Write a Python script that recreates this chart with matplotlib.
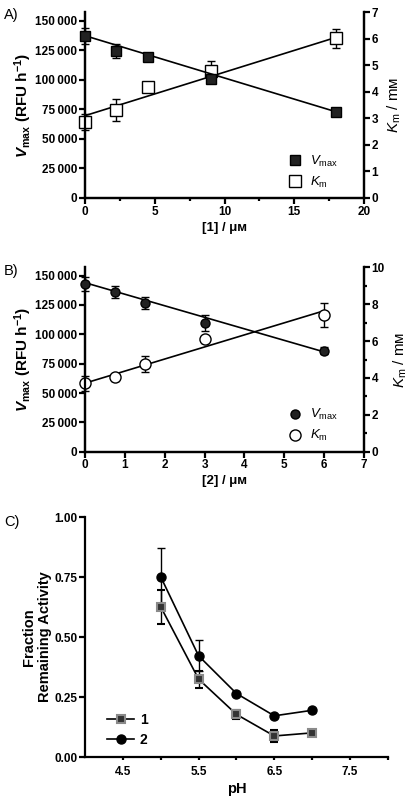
import numpy as np
import matplotlib
matplotlib.use("Agg")
import matplotlib.pyplot as plt
from matplotlib.ticker import FuncFormatter, MultipleLocator

plt.rcParams['font.family'] = ['Liberation Sans', 'DejaVu Sans']
plt.rcParams['mathtext.fontset'] = 'custom'
plt.rcParams['mathtext.rm'] = 'Liberation Sans'
plt.rcParams['mathtext.it'] = 'Liberation Sans:italic'
plt.rcParams['mathtext.bf'] = 'Liberation Sans:bold:italic'
plt.rcParams['mathtext.sf'] = 'Liberation Sans:bold'

# Panel A: compound 1
conc_a = [0, 2.25, 4.5, 9, 18]
vmax_a = [137300, 124800, 119700, 100600, 73100]
vmax_err_a = [7000, 6000, 2000, 3000, 1500]
km_a = [2.87, 3.31, 4.17, 4.79, 6.01]
km_err_a = [0.3, 0.4, 0.15, 0.37, 0.35]
fit_x_a = [0, 18]
fit_vmax_a = [137500, 73000]
fit_km_a = [3.1, 6.05]

# Panel B: compound 2
conc_b = [0, 0.75, 1.5, 3, 6]
vmax_b = [143200, 136100, 126700, 109600, 86000]
vmax_err_b = [6000, 5000, 5000, 7000, 3000]
km_b = [3.72, 4.04, 4.77, 6.1, 7.43]
km_err_b = [0.4, 0.2, 0.43, 0.2, 0.64]
fit_x_b = [0, 6]
fit_vmax_b = [144000, 85000]
fit_km_b = [3.72, 7.65]

# Panel C: pH stability
ph = [5.0, 5.5, 6.0, 6.5, 7.0]
frac_1 = [0.626, 0.325, 0.178, 0.088, 0.101]
frac_1_err = [0.07, 0.035, 0.02, 0.025, 0.012]
frac_2 = [0.751, 0.422, 0.265, 0.172, 0.195]
frac_2_err = [0.12, 0.065, 0.005, 0.005, 0.005]

LW = 1.6
TICKFONT = 8.5
SMALL_M = '\u1d0d'


def thousands(v, pos):
    return f"{int(v):,}".replace(",", "\u2009") if v >= 1000 else f"{int(v)}"


def style_axis(ax, right=True):
    ax.spines['top'].set_visible(False)
    if not right:
        ax.spines['right'].set_visible(False)
    for s in ax.spines.values():
        s.set_linewidth(LW)
    ax.tick_params(direction='out', width=LW, length=4, labelsize=TICKFONT, pad=1.5)
    ax.tick_params(which='minor', direction='out', width=LW, length=2.5)
    for lab in ax.get_xticklabels() + ax.get_yticklabels():
        lab.set_fontweight('bold')


fig = plt.figure(figsize=(4.17, 8.08), dpi=100)

ylab_left = r'$\mathbf{V}_{\mathsf{max}}$ (RFU h$^{\mathsf{-1}}$)'
ylab_right = r'$\mathit{K}_{\rm m}$ / m' + SMALL_M


def kinetics_panel(rect, conc, vmax, vmax_err, km, km_err, fit_x, fit_vmax, fit_km,
                   marker, xlim, xmajor, xminor, ylim_l, ylim_r, rmajor, rminor, xlabel):
    ax = fig.add_axes(rect)
    ax2 = ax.twinx()
    ax.set_zorder(ax2.get_zorder() + 1)
    ax.patch.set_visible(False)
    ax.plot(fit_x, fit_vmax, color='black', lw=1.2, zorder=2)
    ax.errorbar(conc, vmax, yerr=vmax_err, fmt=marker, ms=6.5, color='#222222',
                mec='black', ecolor='black', elinewidth=1, capsize=3, capthick=1, zorder=3,
                clip_on=False)
    ax2.plot(fit_x, fit_km, color='black', lw=1.2, zorder=2)
    ax2.errorbar(conc, km, yerr=km_err, fmt=marker, ms=8, mfc='white', mec='black', mew=1,
                 ecolor='black', elinewidth=1, capsize=3, capthick=1, zorder=3, clip_on=False)
    ax.set_xlim(*xlim)
    ax.set_ylim(*ylim_l)
    ax2.set_ylim(*ylim_r)
    ax.xaxis.set_major_locator(MultipleLocator(xmajor))
    ax.xaxis.set_minor_locator(MultipleLocator(xminor))
    ax.yaxis.set_major_locator(MultipleLocator(25000))
    ax.yaxis.set_major_formatter(FuncFormatter(thousands))
    ax2.yaxis.set_major_locator(MultipleLocator(rmajor))
    ax2.yaxis.set_minor_locator(MultipleLocator(rminor))
    style_axis(ax)
    style_axis(ax2)
    ax.set_xlabel(xlabel, fontsize=9.5, fontweight='bold', labelpad=3)
    ax.set_ylabel(ylab_left, fontsize=11, fontweight='bold', labelpad=1)
    ax2.set_ylabel(ylab_right, fontsize=11, labelpad=5)
    # legend
    h1 = ax.plot([], [], marker, color='#222222', mec='black', ms=6.5)[0]
    h2 = ax.plot([], [], marker, mfc='white', mec='black', ms=8)[0]
    ax.legend([h1, h2], [r'$\mathit{V}_{\rm max}$', r'$\mathit{K}_{\rm m}$'],
              loc='lower right', bbox_to_anchor=(0.95, -0.02), frameon=False, fontsize=9.5,
              handletextpad=0.5, labelspacing=0.45, handlelength=1.2)
    return ax


kinetics_panel([0.204, 0.755, 0.669, 0.230], conc_a, vmax_a, vmax_err_a, km_a, km_err_a,
               fit_x_a, fit_vmax_a, fit_km_a, 's', (0, 20), 5, 2.5,
               (0, 157500), (0, 7), 1, 1, '[1] / \u03bc' + SMALL_M)
kinetics_panel([0.204, 0.441, 0.669, 0.228], conc_b, vmax_b, vmax_err_b, km_b, km_err_b,
               fit_x_b, fit_vmax_b, fit_km_b, 'o', (0, 7), 1, 1,
               (0, 157000), (0, 10), 2, 1, '[2] / \u03bc' + SMALL_M)

# Panel C
axc = fig.add_axes([0.204, 0.063, 0.726, 0.297])
l1 = axc.errorbar(ph, frac_1, yerr=frac_1_err, fmt='-s', color='black', ms=6, mfc='#333333',
                  mec='#8a8a8a', mew=1.5, lw=1.2, ecolor='black', elinewidth=1, capsize=3,
                  capthick=1, zorder=3)
l2 = axc.errorbar(ph, frac_2, yerr=frac_2_err, fmt='-o', color='black', ms=6.5, mfc='black',
                  mec='black', lw=1.2, ecolor='black', elinewidth=1, capsize=3, capthick=1,
                  zorder=3)
axc.set_xlim(4, 8)
axc.set_ylim(0, 1.0)
axc.set_xticks([4.5, 5.5, 6.5, 7.5])
axc.set_xticks([5, 6, 7, 8], minor=True)
axc.yaxis.set_major_locator(MultipleLocator(0.25))
axc.yaxis.set_major_formatter(FuncFormatter(lambda v, p: f"{v:.2f}"))
style_axis(axc, right=False)
axc.tick_params(axis='x', which='major', length=2.5, pad=4)
axc.set_xlabel('pH', fontsize=10.5, fontweight='bold', labelpad=3)
axc.set_ylabel('Fraction\nRemaining Activity', fontsize=10.5, fontweight='bold', labelpad=2,
               linespacing=1.1)
leg = axc.legend([l1.lines[0], l2.lines[0]], ['1', '2'], loc='lower left',
                 bbox_to_anchor=(0.03, -0.01), frameon=False, fontsize=10,
                 handlelength=2.0, handletextpad=0.4, labelspacing=0.45)
for t in leg.get_texts():
    t.set_fontweight('bold')

fig.text(0.01, 0.982, 'A)', fontsize=10.5, va='center')
fig.text(0.01, 0.665, 'B)', fontsize=10.5, va='center')
fig.text(0.01, 0.354, 'C)', fontsize=10.5, va='center')

fig.savefig('out.png', dpi=100)
